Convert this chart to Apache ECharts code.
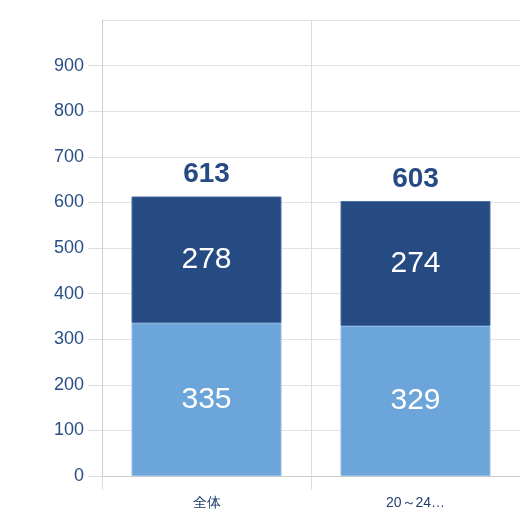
<!DOCTYPE html>
<html>
<head>
<meta charset="utf-8">
<script src="https://cdn.jsdelivr.net/npm/echarts@6/dist/echarts.min.js"></script>
<style>html,body{margin:0;padding:0;background:#fff}#chart{width:520px;height:528px}</style>
</head>
<body>
<div id="chart"></div>
<script>
var categories = ['全体', '20～24歳'];
var lowerValues = [335, 329];
var upperValues = [278, 274];
var totals = [613, 603];

var chart = echarts.init(document.getElementById('chart'));
var option = {
	animation: false,
	grid: { left: 102, right: -2, top: 20, bottom: 52 },
	xAxis: {
		type: 'category',
		data: categories,
		axisLine: { lineStyle: { color: '#ccc' } },
		axisTick: { show: true, length: 14, lineStyle: { color: '#ddd' } },
		splitLine: { show: true, lineStyle: { color: '#ddd' } },
		axisLabel: {
			color: '#1f3e6e', fontSize: 14, margin: 20,
			formatter: function (v) { return v.length > 5 ? v.slice(0, 5) + '…' : v; }
		}
	},
	yAxis: {
		type: 'value', min: 0, max: 1000, interval: 100,
		axisLine: { show: true, lineStyle: { color: '#ccc' } },
		axisTick: { show: true, length: 14, lineStyle: { color: '#ddd' } },
		splitLine: { lineStyle: { color: '#e3e3e3' } },
		axisLabel: { color: '#2a4f86', fontSize: 18, margin: 18, showMaxLabel: false }
	},
	series: [{
		type: 'bar', stack: 's', data: lowerValues, barWidth: 150,
		itemStyle: { color: '#6ca5da', borderColor: '#8fbde8', borderWidth: 1 },
		label: { show: true, position: 'inside', color: '#fff', fontSize: 30 }
	}, {
		type: 'bar', stack: 's', data: upperValues,
		itemStyle: { color: '#264a82', borderColor: '#4a6fa8', borderWidth: 1 },
		label: { show: true, position: 'inside', color: '#fff', fontSize: 30 }
	}, {
		type: 'bar', stack: 's', data: [0, 0],
		itemStyle: { color: 'transparent' },
		label: {
			show: true, position: 'top', color: '#264a82', fontSize: 28, fontWeight: 'bold', distance: 8,
			formatter: function (p) { return totals[p.dataIndex]; }
		}
	}]
};
chart.setOption(option);
</script>
</body>
</html>
